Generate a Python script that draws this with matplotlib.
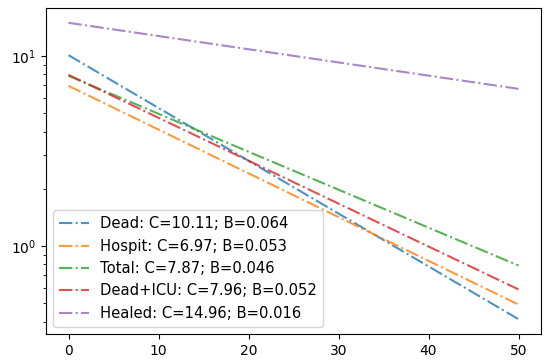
import numpy as np
import matplotlib
matplotlib.use("Agg")
import matplotlib.pyplot as plt

# fitted curves y = C * exp(-B * x), endpoints
x = [0, 50]
labels = ["Dead", "Hospit", "Total", "Dead+ICU", "Healed"]
C = [10.11, 6.97, 7.87, 7.96, 14.96]
B = [0.064, 0.053, 0.046, 0.052, 0.016]
y_start = [10.11, 6.97, 7.87, 7.96, 14.96]
y_end = [0.412, 0.492, 0.789, 0.591, 6.72]

fig = plt.figure(figsize=(5.49, 3.64), dpi=100)
ax = fig.add_subplot(111)
fig.subplots_adjust(left=46 / 549, right=541 / 549, top=1 - 8 / 364, bottom=1 - 334 / 364)

for name, c, b, y0, y1 in zip(labels, C, B, y_start, y_end):
    ax.plot(x, [y0, y1], "-.", alpha=0.8, label=f"{name}: C={c:.2f}; B={b:.3f}")

ax.set_yscale("log")
ax.set_xticks([0, 10, 20, 30, 40, 50])
ax.legend(loc="lower left", fontsize=10.6)

plt.savefig("out.png", dpi=100)
